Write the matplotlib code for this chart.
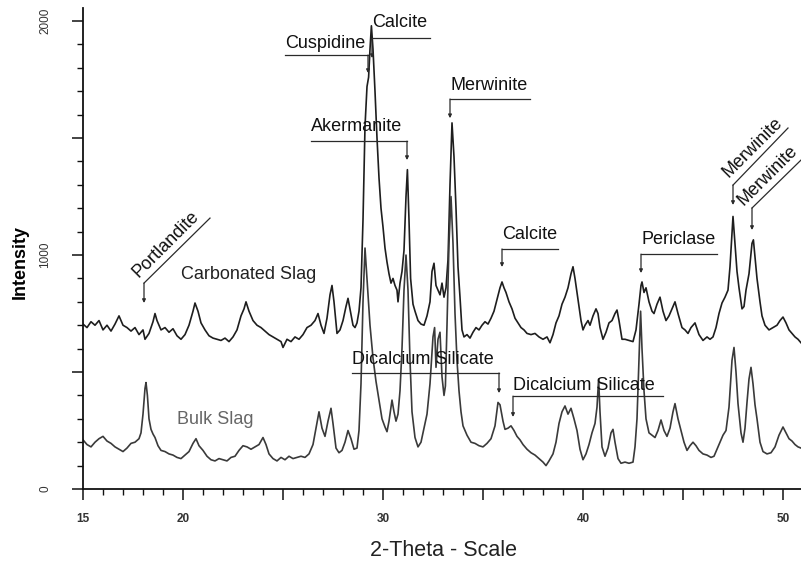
import numpy as np
import matplotlib
matplotlib.use("Agg")
import matplotlib.pyplot as plt
from matplotlib.ticker import MultipleLocator, FuncFormatter

plt.rcParams['font.family'] = ['Liberation Sans', 'DejaVu Sans']

# carbonated slag trace (2-theta, intensity)
carb_x = [15.0, 15.2, 15.4, 15.6, 15.8, 16.0, 16.2, 16.4, 16.6, 16.8, 17.0, 17.2, 17.4, 17.6, 17.8,
          18.0, 18.1, 18.3, 18.5, 18.6, 18.7, 18.9, 19.1, 19.3, 19.5, 19.7, 19.9, 20.1, 20.3, 20.5,
          20.6, 20.75, 20.9, 21.1, 21.3, 21.5, 21.7, 21.9, 22.1, 22.3, 22.5, 22.7, 22.9, 23.05, 23.15,
          23.3, 23.5, 23.7, 23.9, 24.1, 24.3, 24.5, 24.7, 24.9, 25.0, 25.2, 25.4, 25.6, 25.8, 26.0,
          26.2, 26.4, 26.6, 26.75, 26.9, 27.05, 27.2, 27.35, 27.45, 27.55, 27.7, 27.85, 28.0, 28.15,
          28.25, 28.35, 28.5, 28.6, 28.7, 28.8, 28.9, 29.0, 29.1, 29.2, 29.28, 29.35, 29.42, 29.5,
          29.6, 29.7, 29.8, 29.9, 30.0, 30.1, 30.2, 30.3, 30.4, 30.5, 30.6, 30.7, 30.75, 30.85, 30.95,
          31.05, 31.15, 31.22, 31.3, 31.38, 31.5, 31.6, 31.75, 31.9, 32.05, 32.2, 32.35, 32.45, 32.55,
          32.65, 32.75, 32.85, 32.95, 33.05, 33.15, 33.25, 33.35, 33.45, 33.55, 33.65, 33.75, 33.85,
          33.95, 34.05, 34.2, 34.35, 34.5, 34.65, 34.8, 34.95, 35.1, 35.25, 35.4, 35.55, 35.7, 35.85,
          35.95, 36.05, 36.15, 36.3, 36.45, 36.6, 36.75, 36.9, 37.05, 37.2, 37.4, 37.6, 37.8, 38.0,
          38.2, 38.35, 38.5, 38.65, 38.8, 38.95, 39.1, 39.25, 39.4, 39.5, 39.6, 39.7, 39.8, 39.9,
          40.0, 40.1, 40.25, 40.35, 40.5, 40.65, 40.75, 40.85, 41.0, 41.15, 41.3, 41.45, 41.6, 41.7,
          41.8, 41.95, 42.1, 42.3, 42.5, 42.65, 42.8, 42.9, 42.95, 43.05, 43.15, 43.3, 43.45, 43.55,
          43.7, 43.85, 44.0, 44.15, 44.3, 44.45, 44.6, 44.75, 44.95, 45.1, 45.25, 45.4, 45.6, 45.8,
          46.0, 46.2, 46.35, 46.5, 46.65, 46.8, 46.95, 47.1, 47.25, 47.35, 47.5, 47.6, 47.7, 47.8,
          47.95, 48.05, 48.15, 48.3, 48.45, 48.52, 48.6, 48.7, 48.85, 48.95, 49.1, 49.3, 49.5, 49.7,
          49.85, 50.0, 50.15, 50.3, 50.45, 50.6, 50.75, 50.9]
carb_y = [705, 690, 715, 700, 720, 680, 700, 675, 705, 740, 700, 690, 675, 690, 660,
          680, 640, 665, 715, 750, 720, 680, 690, 670, 685, 655, 640, 660, 700, 760,
          795, 760, 710, 680, 655, 645, 640, 635, 645, 630, 650, 680, 740, 770, 800,
          760, 720, 700, 690, 675, 660, 650, 640, 630, 605, 640, 630, 650, 640, 660,
          690, 700, 720, 750, 700, 665, 730, 830, 870, 800, 665, 680, 720, 780,
          815, 770, 700, 690, 710, 760, 860, 1150, 1550, 1720, 1760, 1880, 1980, 1880,
          1700, 1500, 1330, 1200, 1120, 1030, 970, 920, 880, 900, 870, 850, 800, 880, 930,
          1020, 1250, 1365, 1150, 900, 790, 760, 720, 705, 700, 740, 800, 930, 965,
          870, 850, 830, 880, 820, 860, 980, 1300, 1565, 1420, 1200, 950, 820,
          680, 650, 660, 645, 670, 690, 680, 700, 715, 705, 730, 760, 810, 860,
          885, 860, 840, 800, 770, 730, 710, 690, 680, 665, 660, 665, 650, 640,
          650, 625, 660, 710, 740, 790, 820, 860, 920, 950, 900, 840, 780, 720,
          680, 700, 720, 700, 740, 770, 750, 690, 640, 670, 710, 720, 750, 765,
          720, 640, 640, 635, 630, 680, 790, 870, 885, 840, 860, 800, 760, 750,
          790, 820, 760, 720, 740, 770, 800, 750, 690, 680, 665, 690, 710, 660,
          635, 650, 640, 650, 690, 750, 795, 820, 850, 950, 1165, 1050, 930, 860,
          770, 780, 850, 920, 1050, 1065, 990, 900, 800, 740, 700, 680, 690, 700,
          720, 735, 710, 680, 665, 650, 640, 625]

# bulk slag trace
bulk_x = [15.0, 15.2, 15.4, 15.6, 15.8, 16.0, 16.2, 16.4, 16.6, 16.8, 17.0, 17.2, 17.4, 17.6, 17.8,
          17.9, 18.0, 18.1, 18.15, 18.22, 18.3, 18.4, 18.5, 18.6, 18.75, 18.9, 19.1, 19.3, 19.5,
          19.7, 19.9, 20.1, 20.3, 20.5, 20.65, 20.8, 21.0, 21.2, 21.4, 21.6, 21.8, 22.0, 22.2, 22.4,
          22.6, 22.8, 23.0, 23.2, 23.4, 23.6, 23.8, 24.0, 24.15, 24.3, 24.5, 24.7, 24.9, 25.1, 25.3,
          25.5, 25.7, 25.9, 26.1, 26.3, 26.5, 26.65, 26.8, 26.95, 27.1, 27.25, 27.4, 27.5, 27.65,
          27.8, 27.95, 28.1, 28.25, 28.4, 28.55, 28.7, 28.8, 28.9, 29.0, 29.1, 29.2, 29.35, 29.5,
          29.65, 29.8, 29.95, 30.1, 30.2, 30.3, 30.45, 30.55, 30.65, 30.75, 30.85, 30.95, 31.05,
          31.15, 31.25, 31.35, 31.45, 31.6, 31.75, 31.9, 32.05, 32.2, 32.35, 32.5, 32.58, 32.65,
          32.75, 32.85, 32.95, 33.05, 33.12, 33.2, 33.3, 33.4, 33.5, 33.6, 33.7, 33.8, 33.9, 34.0,
          34.2, 34.4, 34.6, 34.8, 35.0, 35.2, 35.4, 35.6, 35.75, 35.85, 36.0, 36.1, 36.25, 36.4,
          36.55, 36.7, 36.85, 37.0, 37.2, 37.4, 37.6, 37.8, 38.0, 38.15, 38.3, 38.5, 38.65, 38.8,
          38.95, 39.1, 39.25, 39.4, 39.55, 39.7, 39.85, 40.0, 40.15, 40.3, 40.45, 40.6, 40.7, 40.78,
          40.85, 40.95, 41.1, 41.25, 41.4, 41.5, 41.6, 41.75, 41.9, 42.1, 42.3, 42.5, 42.6, 42.7,
          42.8, 42.88, 42.95, 43.05, 43.15, 43.3, 43.45, 43.6, 43.75, 43.9, 44.05, 44.2, 44.35,
          44.5, 44.6, 44.75, 44.9, 45.05, 45.2, 45.35, 45.5, 45.65, 45.8, 46.0, 46.2, 46.4, 46.55,
          46.7, 46.85, 47.0, 47.15, 47.3, 47.45, 47.55, 47.65, 47.75, 47.9, 48.0, 48.1, 48.2, 48.3,
          48.4, 48.5, 48.6, 48.7, 48.85, 49.0, 49.2, 49.4, 49.6, 49.8, 50.0, 50.15, 50.3, 50.45,
          50.6, 50.75, 50.9]
bulk_y = [210, 190, 180, 200, 215, 225, 205, 195, 180, 170, 160, 175, 195, 200, 215,
          240, 320, 430, 455, 400, 300, 255, 235, 220, 185, 165, 160, 150, 145,
          135, 130, 145, 160, 195, 215, 185, 165, 140, 125, 120, 130, 125, 120, 135,
          140, 165, 185, 180, 170, 180, 190, 220, 190, 150, 130, 120, 135, 125, 140,
          130, 135, 140, 135, 150, 190, 260, 330, 260, 225, 290, 345, 280, 175,
          155, 165, 200, 250, 215, 170, 175, 250, 450, 800, 1030, 900, 700, 560,
          460, 380, 300, 265, 245, 290, 380, 330, 290, 320, 420, 600, 850,
          1000, 850, 550, 330, 220, 180, 200, 260, 320, 450, 650, 690, 520,
          640, 670, 480, 400, 440, 700, 1050, 1250, 1050, 750, 550, 420, 330, 270,
          230, 200, 195, 185, 180, 195, 215, 270, 370, 360, 290, 255, 260, 270,
          250, 225, 210, 190, 170, 155, 145, 130, 115, 100, 120, 150, 200, 280,
          330, 355, 320, 345, 300, 250, 170, 125, 150, 190, 240, 280, 350, 470,
          330, 180, 140, 175, 240, 255, 200, 130, 110, 115, 110, 115, 180, 300,
          550, 760, 600, 420, 300, 240, 230, 220, 250, 295, 250, 225, 260,
          330, 365, 300, 250, 200, 165, 185, 200, 185, 165, 150, 145, 135, 140,
          170, 200, 230, 250, 350, 550, 605, 500, 365, 240, 200, 260, 370, 470,
          520, 450, 360, 300, 200, 160, 150, 155, 180, 230, 265, 240, 215, 205,
          190, 180, 175]

# horizontal peak labels: text, line start, line end, line height, arrow x, arrow tip, text height
flat_labels = [
    ("Cuspidine", 25.1, 29.25, 1855, 29.25, 1778, 1905),
    ("Calcite", 29.45, 32.35, 1927, 29.45, 1842, 1996),
    ("Akermanite", 26.4, 31.2, 1487, 31.2, 1406, 1550),
    ("Merwinite", 33.35, 37.35, 1667, 33.35, 1585, 1725),
    ("Calcite", 35.95, 38.75, 1026, 35.95, 949, 1087),
    ("Periclase", 42.9, 46.7, 1004, 42.9, 923, 1066),
    ("Dicalcium Silicate", 28.45, 35.8, 496, 35.8, 410, 553),
    ("Dicalcium Silicate", 36.5, 44.0, 397, 36.5, 308, 443),
]
# slanted labels: text, arrow x, arrow tip, line start height, line end x, line end height, text x, text y
slant_labels = [
    ("Portlandite", 18.05, 795, 880, 21.35, 1158, 19.15, 1045),
    ("Merwinite", 47.5, 1214, 1299, 50.25, 1543, 48.5, 1460),
    ("Merwinite", 48.45, 1107, 1201, 50.9, 1406, 49.25, 1340),
]

fig = plt.figure(figsize=(8.01, 5.63), dpi=100)
ax = fig.add_axes([83 / 801, 1 - 489 / 563, 718 / 801, 481 / 563])

ax.plot(carb_x, carb_y, color='#1e1e1e', lw=1.2)
ax.plot(bulk_x, bulk_y, color='#3a3a3a', lw=1.2)

lc = '#2a2a2a'
for name, x0, x1, ly, ax_x, tip, ty in flat_labels:
    ax.plot([x0, x1], [ly, ly], color=lc, lw=0.9)
    ax.annotate('', xy=(ax_x, tip), xytext=(ax_x, ly),
                arrowprops=dict(arrowstyle='-|>', color=lc, lw=0.9,
                                mutation_scale=5, shrinkA=0, shrinkB=0))
    ax.text(x0, ty, name, fontsize=13, color='#111111', ha='left', va='center')

for name, ax_x, tip, ly, x1, y1, tx, ty in slant_labels:
    ax.plot([ax_x, x1], [ly, y1], color=lc, lw=0.9, clip_on=False)
    ax.annotate('', xy=(ax_x, tip), xytext=(ax_x, ly),
                arrowprops=dict(arrowstyle='-|>', color=lc, lw=0.9,
                                mutation_scale=5, shrinkA=0, shrinkB=0))
    ax.text(tx, ty, name, fontsize=13, color='#111111', ha='center', va='center',
            rotation=45, rotation_mode='anchor', clip_on=False)

ax.text(23.3, 915, "Carbonated Slag", fontsize=13, color='#222222', ha='center', va='center')
ax.text(21.6, 299, "Bulk Slag", fontsize=13, color='#666666', ha='center', va='center')

ax.set_xlim(15, 50.9)
ax.set_ylim(0, 2056)
for s in ['top', 'right']:
    ax.spines[s].set_visible(False)
for s in ['left', 'bottom']:
    ax.spines[s].set_linewidth(1.3)
    ax.spines[s].set_color('#111111')

ax.xaxis.set_major_locator(MultipleLocator(5))
ax.xaxis.set_minor_locator(MultipleLocator(1))
ax.yaxis.set_major_locator(MultipleLocator(500))
ax.yaxis.set_minor_locator(MultipleLocator(100))
ax.xaxis.set_major_formatter(FuncFormatter(
    lambda v, p: '%d' % v if (v == 15 or round(v) % 10 == 0) else ''))
ax.yaxis.set_major_formatter(FuncFormatter(
    lambda v, p: '%d' % v if round(v) % 1000 == 0 else ''))

ax.tick_params(axis='both', which='major', direction='out', length=8, width=1.1,
               labelsize=8.5, color='#111111')
ax.tick_params(axis='both', which='minor', direction='out', length=4.5, width=1.0,
               color='#111111')
ax.tick_params(axis='x', which='major', pad=9)
ax.tick_params(axis='y', which='major', pad=15)
for lab in ax.get_xticklabels():
    lab.set_fontweight('bold')
    lab.set_color('#333333')
for lab in ax.get_yticklabels():
    lab.set_rotation(90)
    lab.set_va('center')
    lab.set_color('#333333')

fig.text(20 / 801, 1 - 262 / 563, 'Intensity', rotation=90, fontsize=13,
         fontweight='bold', ha='center', va='center')
fig.text(444 / 801, 1 - 550 / 563, '2-Theta - Scale', fontsize=15.5,
         color='#222222', ha='center', va='center')

fig.savefig('out.png', dpi=100)
